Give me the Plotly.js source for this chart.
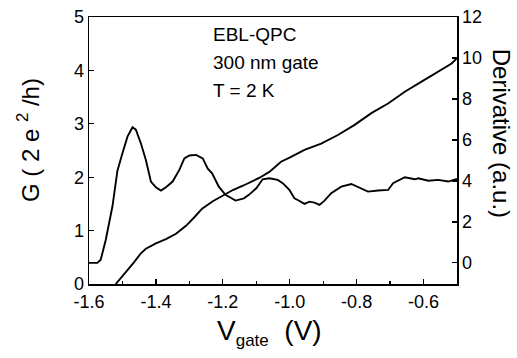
<!DOCTYPE html>
<html>
<head>
<meta charset="utf-8">
<script src="https://cdn.plot.ly/plotly-3.0.1.min.js"></script>
<style>html,body{margin:0;padding:0;background:#fff}#chart{width:517px;height:358px}</style>
</head>
<body>
<div id="chart"></div>
<script>
// Conductance G (2e^2/h), left axis
const gV = [-1.52,-1.49,-1.465,-1.445,-1.43,-1.40,-1.37,-1.34,-1.31,-1.285,-1.262,-1.23,-1.20,-1.17,-1.14,-1.111,-1.09,-1.061,-1.026,-0.996,-0.956,-0.906,-0.856,-0.806,-0.756,-0.706,-0.656,-0.606,-0.556,-0.516,-0.5];
const gG = [0,0.22,0.41,0.575,0.66,0.76,0.84,0.94,1.09,1.25,1.41,1.55,1.66,1.76,1.84,1.92,1.99,2.10,2.29,2.38,2.51,2.63,2.79,2.98,3.20,3.38,3.60,3.79,3.98,4.13,4.23];
// Derivative (a.u.), right axis
const dV = [-1.6,-1.575,-1.565,-1.55,-1.53,-1.515,-1.50,-1.485,-1.47,-1.46,-1.445,-1.43,-1.415,-1.40,-1.385,-1.37,-1.35,-1.33,-1.315,-1.30,-1.28,-1.26,-1.245,-1.232,-1.212,-1.192,-1.162,-1.137,-1.122,-1.10,-1.081,-1.061,-1.036,-1.021,-1.001,-0.986,-0.976,-0.956,-0.941,-0.926,-0.911,-0.896,-0.876,-0.846,-0.816,-0.786,-0.766,-0.736,-0.706,-0.691,-0.666,-0.656,-0.626,-0.616,-0.586,-0.556,-0.526,-0.506,-0.5];
const dD = [0,0,0.15,1.12,2.75,4.5,5.35,6.16,6.62,6.5,5.84,5.02,3.97,3.69,3.53,3.69,3.97,4.54,5.1,5.24,5.27,5.1,4.6,4.37,3.72,3.32,3.04,3.15,3.32,3.64,4.08,4.13,4.05,3.89,3.56,3.15,3.07,2.88,2.99,2.94,2.83,3.04,3.4,3.72,3.85,3.64,3.48,3.53,3.56,3.89,4.08,4.18,4.08,4.13,4.01,4.05,3.97,4.08,4.1];
const xTicks = [-1.6,-1.4,-1.2,-1.0,-0.8,-0.6];
const xTickText = ['-1.6','-1.4','-1.2','-1.0','-0.8','-0.6'];
const yTicks = [0,1,2,3,4,5];
const y2Ticks = [0,2,4,6,8,10,12];
const notes = ['EBL-QPC','300 nm gate','T = 2 K'];

const font = 'Liberation Sans, Arial, sans-serif';
const traces = [
  {x: gV, y: gG, mode: 'lines', line: {color: '#000', width: 1.9}, yaxis: 'y'},
  {x: dV, y: dD, mode: 'lines', line: {color: '#000', width: 1.9}, yaxis: 'y2'}
];
const ann = [
  {text: 'G ( 2 e <sup>2</sup> /h)', xref: 'paper', yref: 'paper', x: -0.165, y: 0.54, textangle: -90, showarrow: false, font: {size: 24, family: font, color: '#000'}, xanchor: 'center', yanchor: 'middle'},
  {text: 'Derivative (a.u.)', xref: 'paper', yref: 'paper', x: 1.12, y: 0.566, textangle: 90, showarrow: false, font: {size: 24, family: font, color: '#000'}, xanchor: 'center', yanchor: 'middle'},
  {text: 'V<sub><span style="font-size:17px">gate</span></sub>  (V)', xref: 'paper', yref: 'paper', x: 0.49, y: -0.18, showarrow: false, font: {size: 28, family: font, color: '#000'}, xanchor: 'center', yanchor: 'middle'}
];
const noteY = [0.936, 0.828, 0.723];
notes.forEach((t, i) => ann.push({text: t, xref: 'x', yref: 'paper', x: -1.235, y: noteY[i], showarrow: false, xanchor: 'left', yanchor: 'middle', font: {size: 19, family: font, color: '#000'}}));

const layout = {
  width: 517, height: 358,
  margin: {l: 89, r: 60, t: 17, b: 74},
  paper_bgcolor: '#fff', plot_bgcolor: '#fff',
  showlegend: false,
  font: {family: font, color: '#000', size: 18},
  xaxis: {range: [-1.6, -0.5], tickvals: xTicks, ticktext: xTickText, ticks: 'inside', ticklen: 5, tickwidth: 1.2, tickcolor: '#000',
    showline: true, linecolor: '#000', linewidth: 1.5, mirror: true, showgrid: false, zeroline: false, ticklabelstandoff: 1,
    minor: {dtick: 0.1, tick0: -1.6, ticks: 'inside', ticklen: 3, tickcolor: '#000', showgrid: false},
    tickfont: {size: 18, family: font}},
  yaxis: {range: [0, 5], tickvals: yTicks, ticks: 'inside', ticklen: 5, tickwidth: 1.2, tickcolor: '#000',
    showline: true, linecolor: '#000', linewidth: 1.5, showgrid: false, zeroline: false,
    tickfont: {size: 18, family: font}},
  yaxis2: {range: [-1.03, 12], overlaying: 'y', side: 'right', tickvals: y2Ticks, ticks: 'inside', ticklen: 5, tickwidth: 1.2, tickcolor: '#000',
    showline: true, linecolor: '#000', linewidth: 1.5, showgrid: false, zeroline: false,
    tickfont: {size: 18, family: font}},
  annotations: ann
};
Plotly.newPlot('chart', traces, layout, {displayModeBar: false, staticPlot: true});
</script>
</body>
</html>
